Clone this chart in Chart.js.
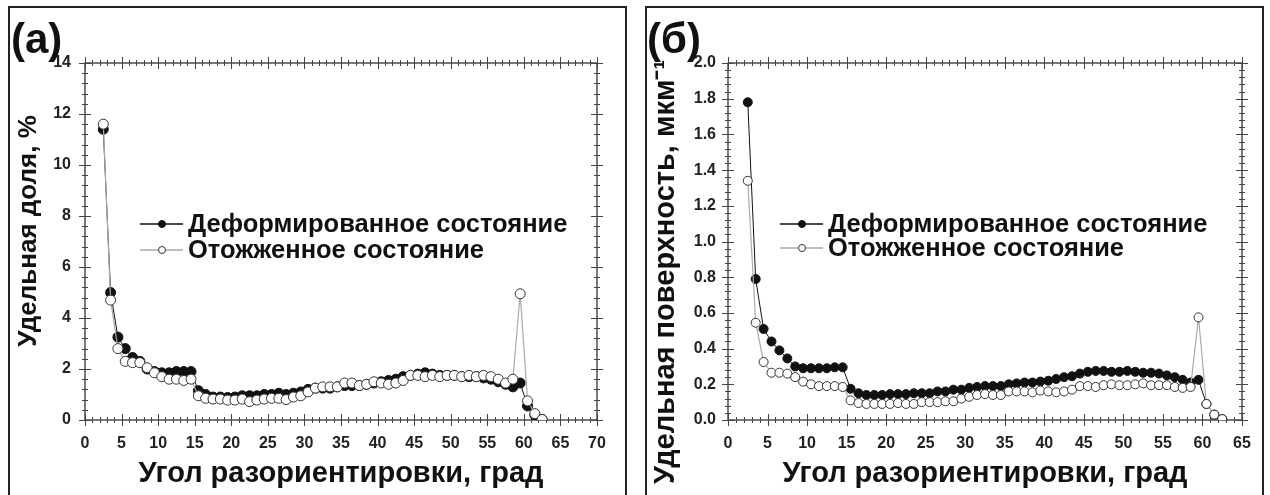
<!DOCTYPE html>
<html>
<head>
<meta charset="utf-8">
<script src="https://cdn.jsdelivr.net/npm/chart.js@4.4.1/dist/chart.umd.min.js"></script>
<style>
body { margin:0; background:#fff; width:1270px; height:495px; overflow:hidden; position:relative; font-family:"Liberation Sans", Arial, sans-serif; }
.panel { position:absolute; top:6px; height:500px; border:2px solid #222; box-sizing:border-box; }
#boxA { left:8px; width:619px; }
#boxB { left:645px; width:619px; }
canvas { position:absolute; top:0; }
#chartA { left:0; }
#chartB { left:635px; }
.tag { position:absolute; font-weight:bold; font-size:42px; line-height:42px; color:#111; }
</style>
</head>
<body>
<div class="panel" id="boxA"></div>
<div class="panel" id="boxB"></div>
<canvas id="chartA" width="635" height="495"></canvas>
<canvas id="chartB" width="635" height="495"></canvas>
<div class="tag" style="left:11px;top:18px">(а)</div>
<div class="tag" style="left:647px;top:18px">(б)</div>
<script>
// misorientation angle bins, degrees
var angles = [2.5, 3.5, 4.5, 5.5, 6.5, 7.5, 8.5, 9.5, 10.5, 11.5, 12.5, 13.5, 14.5, 15.5, 16.5, 17.5, 18.5, 19.5, 20.5, 21.5,
  22.5, 23.5, 24.5, 25.5, 26.5, 27.5, 28.5, 29.5, 30.5, 31.5, 32.5, 33.5, 34.5, 35.5, 36.5, 37.5, 38.5, 39.5, 40.5, 41.5,
  42.5, 43.5, 44.5, 45.5, 46.5, 47.5, 48.5, 49.5, 50.5, 51.5, 52.5, 53.5, 54.5, 55.5, 56.5, 57.5, 58.5, 59.5, 60.5, 61.5, 62.5];

// (а) fraction, %
var fracDeformed = [11.4, 5.0, 3.25, 2.8, 2.45, 2.3, 2.0, 1.9, 1.85, 1.85, 1.9, 1.9, 1.9, 1.15, 1.0, 0.9, 0.9, 0.88, 0.9, 0.95,
  0.95, 0.95, 1.0, 1.0, 1.05, 1.0, 1.05, 1.1, 1.2, 1.25, 1.25, 1.25, 1.3, 1.35, 1.35, 1.35, 1.4, 1.45, 1.5, 1.55,
  1.6, 1.7, 1.75, 1.8, 1.85, 1.8, 1.75, 1.75, 1.75, 1.7, 1.7, 1.7, 1.65, 1.6, 1.5, 1.4, 1.3, 1.45, 0.55, 0.2, 0.02];
var fracAnnealed = [11.6, 4.7, 2.8, 2.3, 2.25, 2.25, 2.05, 1.85, 1.7, 1.6, 1.6, 1.55, 1.6, 0.95, 0.85, 0.82, 0.82, 0.78, 0.78, 0.82,
  0.72, 0.78, 0.82, 0.85, 0.85, 0.8, 0.9, 0.95, 1.1, 1.25, 1.3, 1.3, 1.3, 1.45, 1.45, 1.35, 1.4, 1.5, 1.45, 1.4,
  1.45, 1.55, 1.75, 1.75, 1.7, 1.75, 1.7, 1.75, 1.75, 1.7, 1.75, 1.7, 1.75, 1.7, 1.6, 1.45, 1.6, 4.95, 0.75, 0.25, 0.02];

// (б) specific surface, 1/um
var surfDeformed = [1.78, 0.79, 0.51, 0.44, 0.39, 0.345, 0.30, 0.29, 0.29, 0.29, 0.29, 0.295, 0.295, 0.175, 0.15, 0.14, 0.14, 0.14, 0.145, 0.145,
  0.145, 0.15, 0.15, 0.15, 0.16, 0.16, 0.17, 0.17, 0.18, 0.185, 0.19, 0.19, 0.19, 0.2, 0.205, 0.21, 0.21, 0.215, 0.22, 0.23,
  0.24, 0.245, 0.26, 0.27, 0.275, 0.275, 0.27, 0.27, 0.275, 0.27, 0.265, 0.265, 0.26, 0.25, 0.24, 0.225, 0.21, 0.225, 0.09, 0.03, 0.005];
var surfAnnealed = [1.34, 0.545, 0.325, 0.265, 0.265, 0.26, 0.24, 0.215, 0.2, 0.19, 0.19, 0.19, 0.185, 0.11, 0.095, 0.09, 0.09, 0.09, 0.09, 0.095,
  0.09, 0.09, 0.1, 0.1, 0.1, 0.105, 0.105, 0.12, 0.13, 0.14, 0.145, 0.14, 0.14, 0.16, 0.16, 0.16, 0.155, 0.165, 0.16, 0.155,
  0.16, 0.17, 0.19, 0.19, 0.185, 0.195, 0.2, 0.195, 0.195, 0.2, 0.205, 0.195, 0.195, 0.195, 0.185, 0.18, 0.185, 0.575, 0.09, 0.03, 0.005];

var xTicksA = [0, 5, 10, 15, 20, 25, 30, 35, 40, 45, 50, 55, 60, 65, 70];
var yTicksA = [0, 2, 4, 6, 8, 10, 12, 14];
var xTicksB = [0, 5, 10, 15, 20, 25, 30, 35, 40, 45, 50, 55, 60, 65];
var yTicksB = [0, 0.2, 0.4, 0.6, 0.8, 1.0, 1.2, 1.4, 1.6, 1.8, 2.0];

var seriesNames = ['Деформированное состояние', 'Отожженное состояние'];
var xTitle = 'Угол разориентировки, град';
var yTitleA = 'Удельная доля, %';
var yTitleB = 'Удельная поверхность, мкм⁻¹';

var FONT = '"Liberation Sans", Arial, sans-serif';
Chart.defaults.font.family = FONT;

function pts(ys) {
  return angles.map(function (a, i) { return {x: a, y: ys[i]}; });
}

// frame on all four sides with major/minor ticks crossing it
var frameTicks = {
  id: 'frameTicks',
  beforeDatasetsDraw: function (chart, args, o) {
    var ctx = chart.ctx, a = chart.chartArea;
    var sx = chart.scales.x, sy = chart.scales.y;
    ctx.save();
    ctx.strokeStyle = '#333';
    ctx.lineWidth = 1.3;
    ctx.strokeRect(a.left, a.top, a.right - a.left, a.bottom - a.top);
    ctx.lineWidth = 1;
    ctx.strokeStyle = '#444';
    var n = Math.round((sx.max - sx.min) / o.minorX), i, v, p, L;
    for (i = 0; i <= n; i++) {
      v = sx.min + i * o.minorX;
      p = Math.round(sx.getPixelForValue(v)) + 0.5;
      L = i % o.perX === 0 ? 6 : 3;
      ctx.beginPath();
      ctx.moveTo(p, a.bottom - L); ctx.lineTo(p, a.bottom + L);
      ctx.moveTo(p, a.top - L); ctx.lineTo(p, a.top + L);
      ctx.stroke();
    }
    n = Math.round((sy.max - sy.min) / o.minorY);
    for (i = 0; i <= n; i++) {
      v = sy.min + i * o.minorY;
      p = Math.round(sy.getPixelForValue(v)) + 0.5;
      L = i % o.perY === 0 ? 6 : 3;
      ctx.beginPath();
      ctx.moveTo(a.left - L, p); ctx.lineTo(a.left + L, p);
      ctx.moveTo(a.right - L, p); ctx.lineTo(a.right + L, p);
      ctx.stroke();
    }
    ctx.restore();
  },
  afterDraw: function (chart, args, o) {
    var ctx = chart.ctx, a = chart.chartArea;
    ctx.save();
    // y title, rotated
    ctx.translate(o.yTitleX, o.yTitleY);
    ctx.rotate(-Math.PI / 2);
    ctx.font = 'bold ' + o.yTitleSize + 'px ' + FONT;
    ctx.fillStyle = '#111';
    ctx.textAlign = 'center';
    ctx.textBaseline = 'middle';
    ctx.fillText(o.yTitle, 0, 0);
    ctx.restore();

    // legend inside the plot
    ctx.save();
    var ds = chart.data.datasets;
    ctx.font = 'bold 25.5px ' + FONT;
    ctx.textBaseline = 'middle';
    ctx.textAlign = 'left';
    for (var k = 0; k < ds.length; k++) {
      var y = a.top + o.legendRows[k];
      var x0 = a.left + o.legendX;
      ctx.strokeStyle = ds[k].borderColor;
      ctx.lineWidth = 1.3;
      ctx.beginPath();
      ctx.moveTo(x0, y); ctx.lineTo(x0 + 43, y);
      ctx.stroke();
      ctx.beginPath();
      ctx.arc(x0 + 22, y, 3.5, 0, Math.PI * 2);
      ctx.fillStyle = ds[k].pointBackgroundColor;
      ctx.fill();
      ctx.strokeStyle = ds[k].pointBorderColor;
      ctx.lineWidth = 1;
      ctx.stroke();
      ctx.fillStyle = '#111';
      ctx.fillText(ds[k].label, x0 + 48, y + 1);
    }
    ctx.restore();
  }
};

function makeChart(id, defY, annY, xTicks, yTicks, cfg) {
  var ctx = document.getElementById(id).getContext('2d');
  return new Chart(ctx, {
    type: 'scatter',
    data: {
      datasets: [{
        label: seriesNames[0],
        data: pts(defY),
        showLine: true,
        borderColor: '#111',
        borderWidth: 1,
        pointRadius: cfg.rDef,
        pointBackgroundColor: '#111',
        pointBorderColor: '#111',
        pointBorderWidth: 1,
        order: 1
      }, {
        label: seriesNames[1],
        data: pts(annY),
        showLine: true,
        borderColor: '#aaa',
        borderWidth: 1.2,
        pointRadius: cfg.rAnn,
        pointBackgroundColor: '#fff',
        pointBorderColor: '#333',
        pointBorderWidth: 1,
        order: 0
      }]
    },
    options: {
      responsive: false,
      animation: false,
      layout: { padding: { left: 0, top: 63, right: cfg.padRight, bottom: 0 } },
      plugins: {
        legend: { display: false },
        tooltip: { enabled: false },
        frameTicks: cfg.frame
      },
      scales: {
        x: {
          type: 'linear',
          min: xTicks[0],
          max: xTicks[xTicks.length - 1],
          afterBuildTicks: function (s) { s.ticks = xTicks.map(function (v) { return {value: v}; }); },
          afterFit: function (s) { s.height = 75; },
          grid: { display: false, drawTicks: false },
          border: { display: false },
          ticks: { font: { size: 16, weight: 'bold' }, color: '#222', padding: 14, maxRotation: 0, autoSkip: false },
          title: { display: true, text: xTitle, color: '#111', font: { size: 29, weight: 'bold' }, padding: { top: 0, bottom: 4 } }
        },
        y: {
          min: yTicks[0],
          max: yTicks[yTicks.length - 1],
          afterBuildTicks: function (s) { s.ticks = yTicks.map(function (v) { return {value: v}; }); },
          afterFit: function (s) { s.width = cfg.yWidth; },
          grid: { display: false, drawTicks: false },
          border: { display: false },
          ticks: {
            font: { size: 16, weight: 'bold' }, color: '#222', padding: cfg.yPad, autoSkip: false,
            callback: function (v) { return cfg.decimals ? v.toFixed(cfg.decimals) : String(v); }
          }
        }
      }
    },
    plugins: [frameTicks]
  });
}

makeChart('chartA', fracDeformed, fracAnnealed, xTicksA, yTicksA, {
  padRight: 38, yWidth: 85, yPad: 14, decimals: 0, rDef: 5, rAnn: 5,
  frame: { minorX: 1, perX: 5, minorY: 0.4, perY: 5, yTitle: yTitleA, yTitleX: 29, yTitleY: 231, yTitleSize: 26,
           legendX: 55, legendRows: [161, 187] }
});

makeChart('chartB', surfDeformed, surfAnnealed, xTicksB, yTicksB, {
  padRight: 28, yWidth: 93, yPad: 12, decimals: 1, rDef: 4.5, rAnn: 4.5,
  frame: { minorX: 1, perX: 5, minorY: 0.04, perY: 5, yTitle: yTitleB, yTitleX: 31, yTitleY: 272, yTitleSize: 29,
           legendX: 52, legendRows: [161, 185] }
});
</script>
</body>
</html>
